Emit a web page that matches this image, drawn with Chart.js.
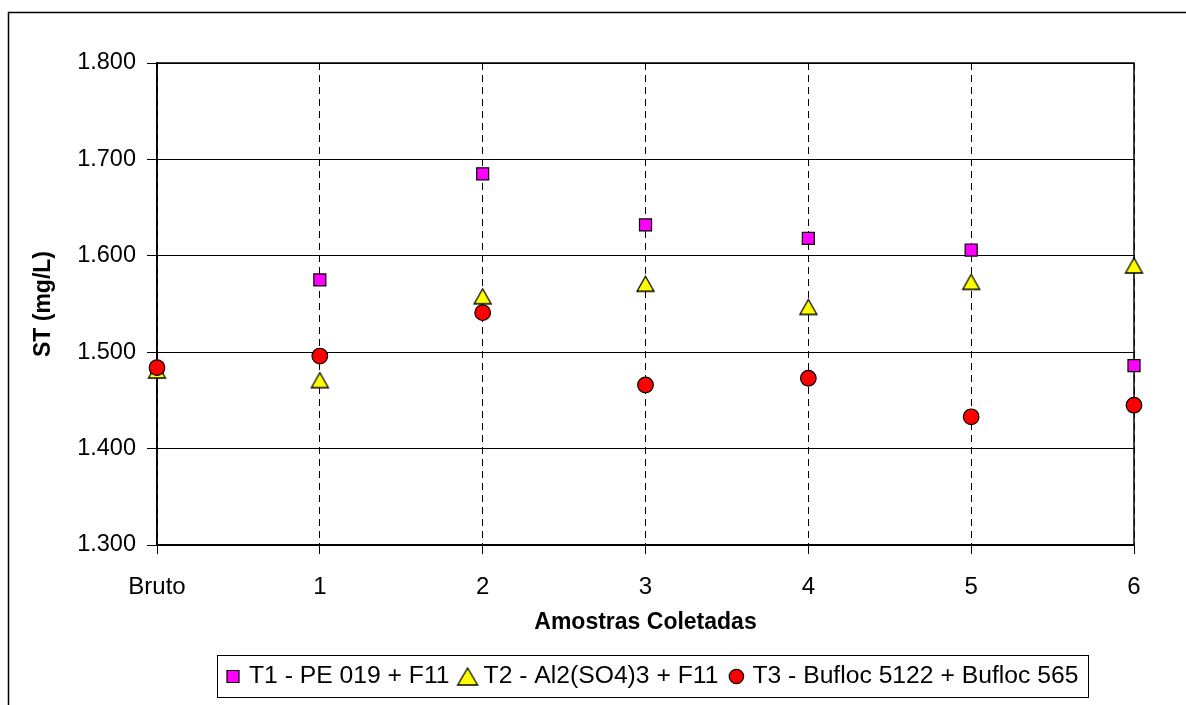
<!DOCTYPE html>
<html>
<head>
<meta charset="utf-8">
<script src="https://cdn.jsdelivr.net/npm/chart.js@4/dist/chart.umd.min.js"></script>
<style>
  html, body { margin: 0; padding: 0; background: #fff; }
  #wrap { position: relative; width: 1186px; height: 705px; overflow: hidden; }
  canvas { display: block; }
</style>
</head>
<body>
<div id="wrap"><canvas id="c" width="1186" height="705"></canvas></div>
<script>
// ---- data ----
const categories = ['Bruto', '1', '2', '3', '4', '5', '6'];
const seriesNames = ['T1 - PE 019 + F11', 'T2 - Al2(SO4)3 + F11', 'T3 - Bufloc 5122 + Bufloc 565'];
const t1Values = [1483, 1575, 1685, 1632, 1618, 1606, 1486];
const t2Values = [1481, 1471, 1558, 1571, 1547, 1573, 1590];
const t3Values = [1484, 1496, 1541, 1466, 1473, 1433, 1445];
const yTicks = [1300, 1400, 1500, 1600, 1700, 1800];
const xTitle = 'Amostras Coletadas';
const yTitle = 'ST (mg/L)';

function fmt(v) {
  const th = Math.floor(v / 1000);
  const rest = String(Math.round(v % 1000)).padStart(3, '0');
  return th + '.' + rest;
}

const FONT = 'Liberation Sans, Arial, sans-serif';

// triangle marker centered on its bounding box (like Excel)
function makeTriangle(w, h, fill) {
  const c = document.createElement('canvas');
  const pad = 2;
  c.width = Math.ceil(w + pad * 2);
  c.height = Math.ceil(h + pad * 2);
  const g = c.getContext('2d');
  const cx = c.width / 2, cy = c.height / 2;
  g.beginPath();
  g.moveTo(cx, cy - h / 2);
  g.lineTo(cx + w / 2, cy + h / 2);
  g.lineTo(cx - w / 2, cy + h / 2);
  g.closePath();
  g.fillStyle = fill;
  g.fill();
  g.lineWidth = 1.3;
  g.lineJoin = 'miter';
  g.strokeStyle = '#000';
  g.stroke();
  return c;
}

const triPlot = makeTriangle(17, 15, '#FFFF00');
const triLegend = makeTriangle(20, 17, '#FFFF00');

const styles = [
  { pointStyle: 'rect', radius: 8.5, bg: '#FF00FF', legendStyle: 'rect', legendRadius: 8.5 },
  { pointStyle: triPlot, radius: 9, bg: '#FFFF00', legendStyle: triLegend, legendRadius: 10 },
  { pointStyle: 'circle', radius: 7.8, bg: '#FF0000', legendStyle: 'circle', legendRadius: 7.2 }
];
const seriesValues = [t1Values, t2Values, t3Values];

const datasets = seriesValues.map((vals, i) => ({
  label: seriesNames[i],
  data: vals,
  order: 3 - i,
  showLine: false,
  pointStyle: styles[i].pointStyle,
  pointRadius: styles[i].radius,
  pointHoverRadius: styles[i].radius,
  pointBackgroundColor: styles[i].bg,
  pointBorderColor: '#000',
  pointBorderWidth: 1.2,
  backgroundColor: styles[i].bg,
  borderColor: '#000'
}));

const decor = {
  id: 'decor',
  beforeDraw(chart) {
    const ctx = chart.ctx;
    ctx.save();
    ctx.fillStyle = '#fff';
    ctx.fillRect(0, 0, chart.width, chart.height);
    ctx.strokeStyle = '#000';
    ctx.lineWidth = 1.5;
    ctx.beginPath();
    ctx.moveTo(8.5, chart.height + 2);
    ctx.lineTo(8.5, 12.5);
    ctx.lineTo(chart.width + 2, 12.5);
    ctx.stroke();
    ctx.restore();
  },
  beforeDatasetsDraw(chart) {
    const a = chart.chartArea;
    const ctx = chart.ctx;
    ctx.save();
    ctx.strokeStyle = '#000';
    ctx.lineWidth = 1.5;
    ctx.strokeRect(a.left, a.top, a.right - a.left, a.bottom - a.top);
    ctx.restore();
  },
  afterDraw(chart) {
    const ctx = chart.ctx;
    ctx.save();
    ctx.font = '24.7px ' + FONT;
    ctx.textBaseline = 'middle';
    ctx.textAlign = 'left';
    const cy = 676.5;
    const boxL = 217, boxR = 1088, boxT = 655, boxB = 697;
    ctx.fillStyle = '#fff';
    ctx.fillRect(boxL, boxT, boxR - boxL, boxB - boxT);
    ctx.strokeStyle = '#000';
    ctx.lineWidth = 1;
    ctx.strokeRect(boxL + 0.5, boxT + 0.5, boxR - boxL, boxB - boxT);
    let mx = 233;
    chart.data.datasets.forEach((ds, i) => {
      const st = styles[i];
      ctx.fillStyle = st.bg;
      ctx.strokeStyle = '#000';
      ctx.lineWidth = 1.2;
      Chart.helpers.drawPoint(ctx, { pointStyle: st.legendStyle, radius: st.legendRadius, borderWidth: 1.2, rotation: 0 }, mx, cy);
      const tx = mx + 16;
      ctx.fillStyle = '#000';
      ctx.fillText(ds.label, tx, cy);
      const end = tx + ctx.measureText(ds.label).width;
      mx = end + 18;
    });
    ctx.restore();
  }
};

new Chart(document.getElementById('c'), {
  type: 'line',
  data: { labels: categories, datasets },
  options: {
    responsive: false,
    animation: false,
    events: [],
    layout: { padding: { left: 30, top: 63, right: 52, bottom: 69 } },
    plugins: { legend: { display: false }, tooltip: { enabled: false } },
    scales: {
      x: {
        type: 'category',
        offset: false,
        grid: {
          display: true,
          color: '#000',
          lineWidth: 1,
          drawTicks: true,
          tickLength: 9,
          tickBorderDash: [],
          tickColor: '#000',
          offset: false
        },
        border: { display: true, color: '#000', width: 1.5, dash: [7, 5] },
        ticks: { color: '#000', font: { family: FONT, size: 24 }, padding: 19, maxRotation: 0, autoSkip: false },
        title: { display: true, text: xTitle, color: '#000', font: { family: FONT, size: 23, weight: 'bold' }, padding: 0 },
        afterFit(scale) { scale.height = 91; }
      },
      y: {
        min: 1300,
        max: 1800,
        afterBuildTicks(scale) { scale.ticks = yTicks.map(v => ({ value: v })); },
        grid: { color: '#000', lineWidth: 1, drawTicks: true, tickLength: 10, tickColor: '#000' },
        border: { display: true, color: '#000', width: 1.5 },
        ticks: { color: '#000', font: { family: FONT, size: 23.5 }, padding: 11, callback: v => fmt(v) },
        title: { display: true, text: yTitle, color: '#000', font: { family: FONT, size: 23, weight: 'bold' }, padding: 0 },
        afterFit(scale) { scale.width = 127; }
      }
    }
  },
  plugins: [decor]
});
</script>
</body>
</html>
